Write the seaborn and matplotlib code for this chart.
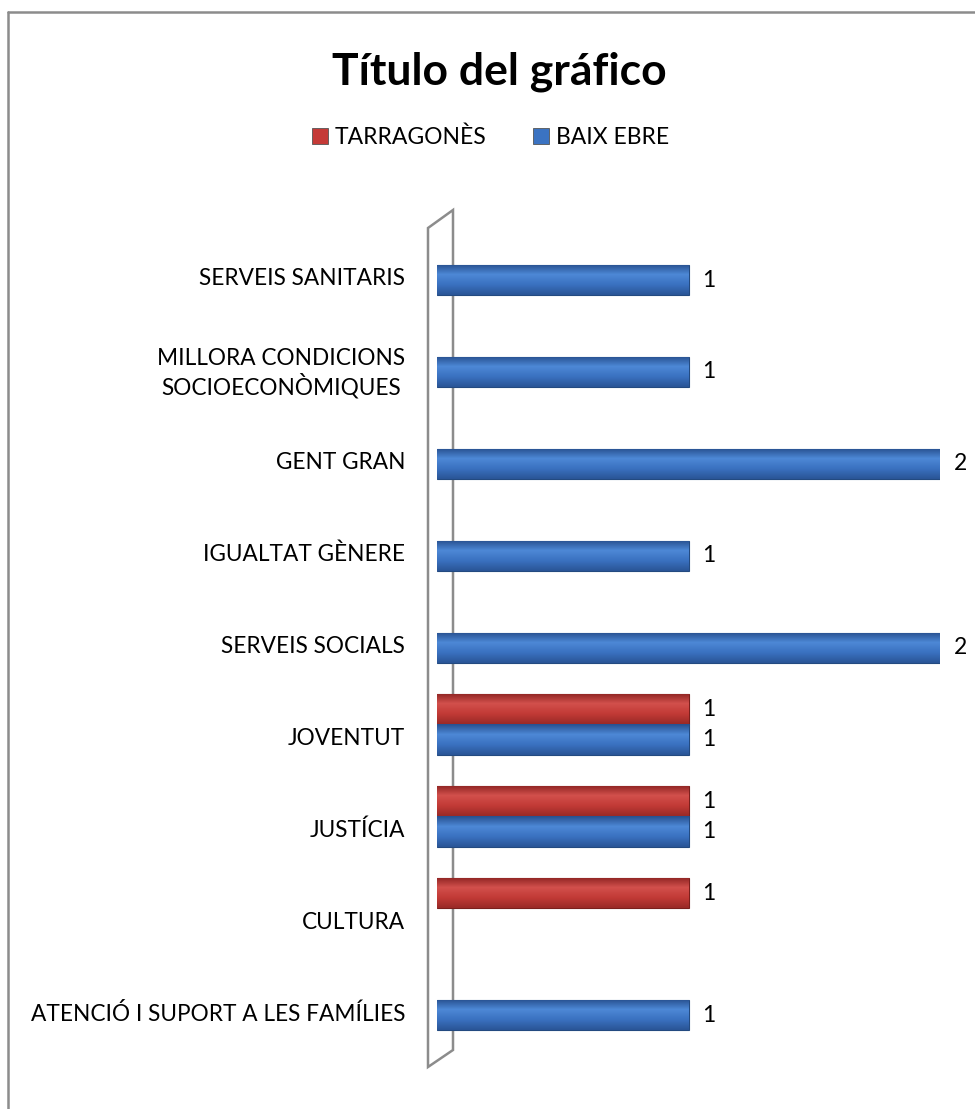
import pandas as pd
import seaborn as sns
import numpy as np
import matplotlib.pyplot as plt
from matplotlib.patches import Polygon
from matplotlib.lines import Line2D
from matplotlib.colors import LinearSegmentedColormap
import matplotlib.transforms as mtransforms

sns.set_style('white')
plt.rcParams['font.family'] = ['Lato', 'DejaVu Sans']
plt.rcParams['text.color'] = 'black'
plt.rcParams['ytick.labelcolor'] = 'black'

# data (top to bottom)
categories = ['SERVEIS SANITARIS', 'MILLORA CONDICIONS\nSOCIOECONÒMIQUES', 'GENT GRAN',
              'IGUALTAT GÈNERE', 'SERVEIS SOCIALS', 'JOVENTUT', 'JUSTÍCIA', 'CULTURA',
              'ATENCIÓ I SUPORT A LES FAMÍLIES']
tarragones = [np.nan, np.nan, np.nan, np.nan, np.nan, 1, 1, 1, np.nan]
baix_ebre = [1, 1, 2, 1, 2, 1, 1, np.nan, 1]
series = ['TARRAGONÈS', 'BAIX EBRE']
colors = ['#C53A37', '#3B73C2']

df = pd.DataFrame({
    'categoria': categories * 2,
    'valor': tarragones + baix_ebre,
    'serie': [series[0]] * len(categories) + [series[1]] * len(categories),
})

W, H = 975, 1109
fig = plt.figure(figsize=(W / 100, H / 100), dpi=100)
ax = fig.add_axes([437 / W, 1 - 1046 / H, (940 - 437) / W, (1046 - 219) / H])

# 3d-ish back wall
wall = Polygon([(428 / W, 1 - 228 / H), (453 / W, 1 - 210 / H),
                (453 / W, 1 - 1050 / H), (428 / W, 1 - 1067 / H)],
               closed=True, transform=fig.transFigure, facecolor='none',
               edgecolor='#8c8c8c', linewidth=1.8, zorder=-1)
fig.patches.append(wall)

sns.barplot(data=df, y='categoria', x='valor', hue='serie', order=categories,
            hue_order=series, palette=colors, saturation=1, orient='h', width=0.66,
            errorbar=None, linewidth=0.8, ax=ax)

# bevel-like shading on each bar
grads = {
    0: ['#8e2422', '#d2504c', '#c23a36', '#9a2a27'],
    1: ['#27508f', '#4d88d6', '#3a71c0', '#2a5596'],
}
for i, (bars, ec) in enumerate(zip(ax.containers, ['#7a1f1c', '#234a80'])):
    cmap = LinearSegmentedColormap.from_list('g%d' % i, grads[i])
    for b in bars:
        b.set_edgecolor(ec)
        x0, y0 = b.get_x(), b.get_y()
        w, h = b.get_width(), b.get_height()
        if not np.isfinite(w) or w == 0:
            continue
        img = ax.imshow(np.linspace(0, 1, 64).reshape(-1, 1), cmap=cmap, aspect='auto',
                        extent=(x0, x0 + w, y0, y0 + h), origin='lower', zorder=b.get_zorder())
        img.set_clip_path(b)
    labels = ax.bar_label(bars, fmt='%g', padding=10, fontsize=16.5, color='black')
    for t in labels:
        t.set_transform(t.get_transform() + mtransforms.ScaledTranslation(0, -4 / 100, fig.dpi_scale_trans))

ax.set_xlim(0, 2)
ax.set_ylim(8.5, -0.5)
ax.set_xlabel('')
ax.set_ylabel('')
ax.set_xticks([])
ax.tick_params(axis='y', length=0, pad=23, labelsize=16.3, labelcolor='black')
for lab in ax.get_yticklabels():
    lab.set_multialignment('center')
    lab.set_transform(lab.get_transform() + mtransforms.ScaledTranslation(0, -12 / 100, fig.dpi_scale_trans))
sns.despine(ax=ax, left=True, bottom=True)
ax.patch.set_alpha(0)

ax.legend_.remove()
handles = [plt.Rectangle((0, 0), 1, 1, facecolor=c, edgecolor='#555555', linewidth=0.6) for c in colors]
fig.legend(handles, series, loc='center', bbox_to_anchor=(0.503, 1 - 137 / H), ncol=2,
           frameon=False, fontsize=16.5, handlelength=0.7, handleheight=0.7,
           handletextpad=0.3, columnspacing=2.0)

fig.text(0.512, 1 - 72 / H, 'Título del gráfico', ha='center', va='center',
         fontsize=32, fontweight='bold', color='black')

# outer frame (top and left edges visible)
fig.lines.append(Line2D([8 / W, 1], [1 - 12 / H, 1 - 12 / H], transform=fig.transFigure,
                        color='#8c8c8c', linewidth=1.8))
fig.lines.append(Line2D([8 / W, 8 / W], [1 - 12 / H, 0], transform=fig.transFigure,
                        color='#8c8c8c', linewidth=1.8))

fig.savefig('out.png', dpi=100, facecolor='white')
